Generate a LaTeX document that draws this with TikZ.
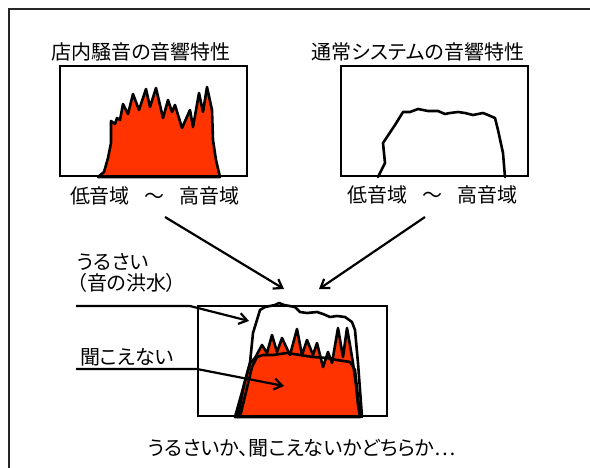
\documentclass[tikz,border=0pt]{standalone}
\usepackage{fontspec}
\setmainfont[RawFeature=+palt]{Noto Sans CJK JP}
\usetikzlibrary{arrows.meta,positioning}
\definecolor{noisered}{RGB}{255,51,0}
\begin{document}
\begin{tikzpicture}[x=1pt,y=-1pt,
		box/.style={draw, line width=2.4pt},
		curve/.style={line width=2.6pt, line join=round, line cap=round},
		lbl/.style={inner sep=0pt, font=\fontsize{20}{24}\selectfont},
		pointer/.style={line width=2.2pt, -{Straight Barb[length=8pt,width=11pt]}}]
	\useasboundingbox (0,0) rectangle (590,468);
	\clip (0,0) rectangle (590,468);
	
	% outer frame, cut off at right and bottom
	\draw[line width=2.2pt, black!85] (9,490) -- (9,9) -- (610,9);
	
	% noise in the shop
	\filldraw[curve, fill=noisered] (98,177) -- (104,172) -- (108,158) -- (111,143) -- (111,121) -- (115,124) -- (117,118) -- (120,120) -- (123,104) -- (128,114) -- (133,94) -- (139,110) -- (146,89) -- (150,107) -- (156,88) -- (163,118) -- (168,100) -- (172,112) -- (175,105) -- (182,128) -- (190,110) -- (193,127) -- (199,93) -- (203,112) -- (207,87) -- (212,110) -- (213,140) -- (216,160) -- (220,177) -- cycle;
	\draw[box] (60,66) rectangle (247,176);
	
	% usual system
	\draw[curve] (378,177) -- (385,163) -- (383,143) -- (395,125) -- (403,112) -- (410,112) -- (418,109) -- (428,111) -- (438,111) -- (445,114) -- (450,113) -- (458,112) -- (465,113) -- (473,115) -- (483,113) -- (488,115) -- (495,118) -- (498,130) -- (503,153) -- (505,177);
	\draw[box] (341,66) rectangle (528,176);
	
	% both together
	\filldraw[curve, fill=noisered] (235,417) -- (242,392) -- (250,363) -- (255,358) -- (262,345) -- (267,353) -- (272,335) -- (277,352) -- (282,338) -- (290,355) -- (297,329) -- (302,355) -- (307,340) -- (313,355) -- (317,343) -- (323,367) -- (328,352) -- (332,363) -- (338,328) -- (343,357) -- (347,328) -- (350,345) -- (353,363) -- (356,385) -- (358,405) -- (360,417) -- cycle;
	\draw[curve] (240,417) -- (246,392) -- (252,367) -- (257,357) -- (263,355) -- (273,355) -- (287,353) -- (300,355) -- (313,357) -- (327,358) -- (337,360) -- (350,362) -- (355,370) -- (358,397) -- (360,417);
	\draw[curve] (238,417) -- (244,385) -- (250,363) -- (253,333) -- (260,310) -- (265,307) -- (275,305) -- (279,303) -- (284,305) -- (295,307) -- (300,312) -- (307,313) -- (317,312) -- (323,314) -- (330,317) -- (337,316) -- (345,317) -- (352,322) -- (355,330) -- (358,363) -- (362,417);
	\draw[box] (198,306) rectangle (387,416);
	
	% texts
	\node[lbl] (title1) at (141,52) {店内騒音の音響特性};
	\node[lbl] (title2) at (418,52) {通常システムの音響特性};
	\node[lbl] (range1) at (155,196) {低音域\hspace{15pt}～\hspace{15pt}高音域};
	\node[lbl] (range2) at (432,195) {低音域\hspace{15pt}～\hspace{15pt}高音域};
	\node[lbl, anchor=west] (loud) at (77,262) {うるさい};
	\node[lbl, below=3pt of loud.south west, anchor=north west] (flood) {（音の洪水）};
	\node[lbl, anchor=west] (quiet) at (80,357) {聞こえない};
	\node[lbl] (verdict) at (302,448) {うるさいか、聞こえないかどちらか…};
	
	% pointers
	\coordinate (from1) at (165,217);
	\coordinate (from2) at (425,217);
	\coordinate (to1) at (284,289);
	\coordinate (to2) at (319,289);
	\draw[pointer] (from1) -- (to1);
	\draw[pointer] (from2) -- (to2);
	
	\coordinate (loudstart) at (76,306);
	\coordinate (loudtip) at (249,321);
	\coordinate (quietstart) at (76,369);
	\coordinate (quiettip) at (284,386);
	\draw[pointer] (loudstart) -- (190,306) -- (loudtip);
	\draw[pointer] (quietstart) -- (197,369) -- (quiettip);
\end{tikzpicture}
\end{document}
